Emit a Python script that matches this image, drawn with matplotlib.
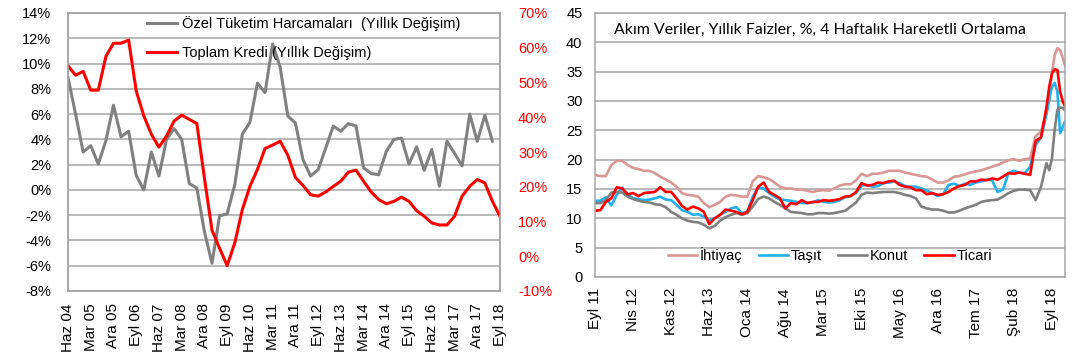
import numpy as np
import matplotlib
matplotlib.use("Agg")
import matplotlib.pyplot as plt

plt.rcParams["font.family"] = ["Liberation Sans", "DejaVu Sans"]

# ---- left chart: quarterly, Haz 04 .. Eyl 18 ----
q_labels = ["Haz 04", "Mar 05", "Ara 05", "Eyl 06", "Haz 07", "Mar 08", "Ara 08",
            "Eyl 09", "Haz 10", "Mar 11", "Ara 11", "Eyl 12", "Haz 13", "Mar 14",
            "Ara 14", "Eyl 15", "Haz 16", "Mar 17", "Ara 17", "Eyl 18"]

ozel_tuketim = [8.9, 6.0, 3.0, 3.5, 2.05, 3.9, 6.7, 4.2, 4.65, 1.15,
                0.0, 3.0, 1.1, 4.0, 4.85, 4.0, 0.5, 0.15, -3.3, -5.8,
                -2.05, -1.9, 0.4, 4.4, 5.35, 8.45, 7.7, 11.55, 9.7, 5.85,
                5.3, 2.4, 1.1, 1.6, 3.3, 5.05, 4.65, 5.25, 5.05, 1.75,
                1.3, 1.2, 3.05, 4.0, 4.1, 2.05, 3.4, 1.55, 3.2, 0.3,
                3.85, 2.9, 1.9, 6.0, 3.85, 5.9, 3.85]

toplam_kredi = [54.8, 52.1, 53.2, 47.8, 47.8, 57.5, 61.3, 61.3, 62.2, 47.6,
                40.4, 35.1, 31.4, 34.6, 38.9, 40.6, 39.4, 38.2, 22.5, 7.5,
                2.3, -2.7, 3.8, 13.4, 20.1, 25.0, 31.0, 32.0, 33.1, 29.1,
                22.7, 20.4, 17.7, 17.3, 18.5, 20.1, 21.6, 24.2, 24.8, 21.6,
                18.5, 16.3, 15.1, 15.8, 17.0, 15.8, 13.1, 11.5, 9.6, 9.0,
                9.0, 11.5, 17.3, 20.1, 22.1, 21.1, 15.8, 11.5]

# ---- right chart: months since Eyl 11 ----
m_labels = ["Eyl 11", "Nis 12", "Kas 12", "Haz 13", "Oca 14", "Ağu 14", "Mar 15",
            "Eki 15", "May 16", "Ara 16", "Tem 17", "Şub 18", "Eyl 18"]
months = list(range(0, 81)) + [81, 82, 83, 83.5, 84, 84.5, 85, 85.5, 86, 86.4]

ihtiyac = [17.4, 17.2, 17.2, 19.1, 19.8, 19.8, 19.1, 18.6, 18.4, 18.1,
           18.1, 17.7, 17.1, 16.6, 16.1, 15.4, 14.3, 14.0, 13.9, 13.7,
           12.6, 11.9, 12.3, 12.8, 13.7, 14.0, 13.9, 13.7, 13.7, 16.3,
           17.2, 17.0, 16.7, 16.1, 15.4, 15.1, 15.1, 14.9, 14.9, 14.7,
           14.5, 14.7, 14.8, 14.7, 15.1, 15.6, 15.8, 15.8, 16.5, 17.6,
           17.2, 17.6, 17.6, 17.8, 18.1, 18.1, 18.1, 17.8, 17.6, 17.4,
           17.2, 17.1, 16.6, 16.1, 16.1, 16.5, 17.1, 17.2, 17.5, 17.8,
           18.0, 18.2, 18.5, 18.8, 19.1, 19.5, 19.9, 20.1, 19.8, 20.1,
           20.2, 24.0, 24.8, 28.0, 31.3, 34.7, 37.8, 39.0, 38.7, 37.3, 36.1]

tasit = [13.0, 13.0, 13.6, 12.2, 14.0, 15.2, 14.1, 13.4, 13.3, 13.1,
         13.2, 13.4, 13.7, 13.2, 13.1, 12.3, 11.4, 11.1, 10.6, 10.7,
         10.3, 9.7, 10.0, 10.6, 11.1, 11.7, 11.9, 10.9, 11.1, 13.7,
         15.2, 15.1, 14.3, 13.7, 13.2, 13.1, 13.0, 12.8, 12.6, 12.6,
         12.7, 13.1, 12.8, 12.7, 12.8, 13.1, 13.6, 13.8, 14.3, 15.6,
         15.7, 15.4, 15.5, 16.0, 16.1, 16.3, 16.0, 15.5, 15.4, 15.4,
         15.1, 14.7, 14.3, 13.8, 14.1, 15.7, 15.9, 15.5, 15.9, 15.7,
         16.1, 16.3, 16.6, 16.5, 14.5, 14.9, 17.7, 18.1, 17.8, 17.7,
         18.8, 22.5, 23.8, 27.8, 30.2, 32.4, 33.1, 31.6, 24.5, 25.6, 26.5]

konut = [12.6, 12.6, 13.1, 14.4, 14.5, 14.4, 13.7, 13.3, 13.0, 12.8,
         12.7, 12.4, 12.3, 11.9, 11.1, 10.6, 10.0, 9.6, 9.4, 9.3,
         8.9, 8.3, 8.7, 9.6, 10.2, 10.6, 10.9, 10.6, 10.9, 12.0,
         13.3, 13.7, 13.4, 12.8, 12.3, 11.7, 11.1, 11.0, 10.9, 10.7,
         10.7, 10.9, 10.9, 10.8, 10.9, 11.1, 11.3, 12.0, 12.7, 14.0,
         14.4, 14.3, 14.4, 14.5, 14.5, 14.5, 14.3, 14.0, 13.8, 13.4,
         12.0, 11.7, 11.5, 11.5, 11.3, 11.0, 11.0, 11.3, 11.7, 12.0,
         12.3, 12.8, 13.0, 13.1, 13.2, 13.7, 14.3, 14.7, 14.9, 14.9,
         14.8, 13.1, 15.4, 19.4, 18.2, 20.2, 25.1, 28.5, 28.9, 28.8, 28.4]

ticari = [11.3, 11.4, 12.8, 13.4, 15.3, 15.1, 14.1, 14.3, 13.8, 14.3,
          14.4, 14.5, 15.3, 14.5, 14.5, 13.4, 12.1, 11.5, 12.0, 11.7,
          11.1, 9.0, 10.0, 10.6, 11.5, 11.3, 11.1, 10.7, 11.1, 13.1,
          15.4, 16.1, 14.5, 14.0, 13.4, 11.7, 12.6, 12.4, 13.1, 12.6,
          12.8, 12.8, 13.1, 13.0, 13.1, 13.3, 13.7, 13.8, 14.5, 16.0,
          15.6, 15.7, 16.1, 16.0, 16.3, 16.4, 15.7, 15.4, 15.3, 14.8,
          14.8, 14.1, 14.3, 14.0, 14.1, 14.5, 15.1, 15.5, 15.7, 16.3,
          16.3, 16.6, 16.5, 16.8, 16.6, 17.1, 17.7, 17.6, 17.8, 17.6,
          17.4, 23.2, 23.8, 29.0, 32.4, 34.7, 35.4, 35.3, 31.6, 29.9, 29.1]

GRID = "#A6A6A6"

fig = plt.figure(figsize=(10.82, 3.57), dpi=100)

# ---------- left ----------
ax1 = fig.add_axes([68 / 1082, 1 - 291 / 357, 432 / 1082, 278 / 357])
ax2 = ax1.twinx()

ax1.plot(range(len(ozel_tuketim)), ozel_tuketim, color="#808080", lw=2.2,
         label="Özel Tüketim Harcamaları  (Yıllık Değişim)")
ax2.plot(range(len(toplam_kredi)), toplam_kredi, color="#FF0000", lw=2.2,
         label="Toplam Kredi (Yıllık Değişim)")

ax1.set_xlim(0, len(toplam_kredi) - 1)
ax1.set_ylim(-8, 14)
ax2.set_ylim(-10, 70)
left_ticks = list(range(-8, 15, 2))
ax1.set_yticks(left_ticks)
ax1.set_yticklabels([f"{v}%" for v in left_ticks], fontsize=10.5)
right_ticks = list(range(-10, 71, 10))
ax2.set_yticks(right_ticks)
ax2.set_yticklabels([f"{v}%" for v in right_ticks], fontsize=10.5, color="#FF0000")
ax1.set_xticks(range(0, len(toplam_kredi), 3))
ax1.set_xticklabels(q_labels, rotation=90, fontsize=11)
ax1.grid(axis="y", color=GRID, lw=1.1)
ax1.set_axisbelow(True)
ax1.tick_params(axis="y", length=0, pad=12)
ax1.tick_params(axis="x", length=0, pad=9)
ax2.tick_params(axis="y", length=0, pad=13)
for a in (ax1, ax2):
    for s in a.spines.values():
        s.set_color(GRID)
        s.set_linewidth(1.1)

h1, l1 = ax1.get_legend_handles_labels()
h2, l2 = ax2.get_legend_handles_labels()
ax2.legend(h1 + h2, l1 + l2, loc="upper left", bbox_to_anchor=(0.175, 1.0),
           frameon=False, fontsize=10.5, handlelength=2.1, handletextpad=0.3,
           labelspacing=1.05, borderpad=0.2, borderaxespad=0)

# ---------- right ----------
ax3 = fig.add_axes([595 / 1082, 1 - 277 / 357, 470 / 1082, 264 / 357])
ax3.plot(months, ihtiyac, color="#D99795", lw=1.9, label="İhtiyaç")
ax3.plot(months, tasit, color="#1EB1ED", lw=1.9, label="Taşıt")
ax3.plot(months, konut, color="#7F7F7F", lw=1.9, label="Konut")
ax3.plot(months, ticari, color="#FF0000", lw=1.9, label="Ticari")
ax3.set_xlim(0, months[-1])
ax3.set_ylim(0, 45)
ax3.set_yticks(range(0, 46, 5))
ax3.tick_params(axis="y", labelsize=10.5, length=0, pad=9)
ax3.set_xticks(range(0, 85, 7))
ax3.set_xticklabels(m_labels, rotation=90, fontsize=11)
ax3.tick_params(axis="x", length=0, pad=8)
ax3.grid(axis="y", color=GRID, lw=1.1)
ax3.set_axisbelow(True)
for s in ax3.spines.values():
    s.set_color(GRID)
    s.set_linewidth(1.1)
ax3.text(0.04, 0.935, "Akım Veriler, Yıllık Faizler, %, 4 Haftalık Hareketli Ortalama",
         transform=ax3.transAxes, fontsize=11.4, family=["Lato", "DejaVu Sans"],
         va="center", ha="left")
ax3.legend(loc="center", bbox_to_anchor=(0.5, 0.083), ncol=4, frameon=False,
           fontsize=10.5, handlelength=2.0, handletextpad=0.2, columnspacing=1.1,
           borderpad=0, borderaxespad=0)

fig.savefig("out.png", dpi=100)
